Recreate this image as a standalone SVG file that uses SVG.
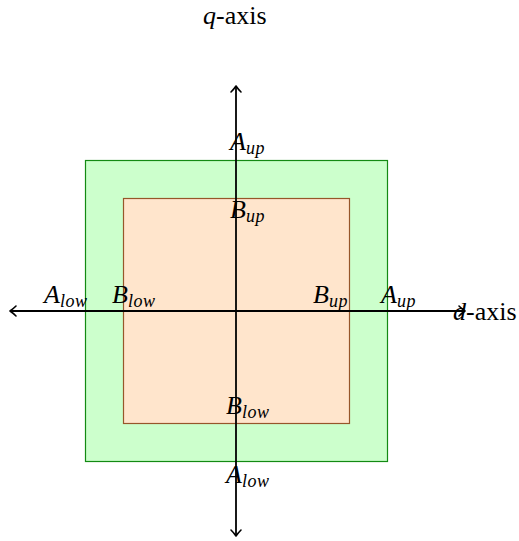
<svg xmlns="http://www.w3.org/2000/svg" width="519" height="541" viewBox="0 0 519 541">
<style>
.lbl{font-family:"Liberation Serif","DejaVu Serif",serif;font-size:26px;font-style:italic;fill:#000}
.up{font-size:18px;letter-spacing:0.5px}
.rm{font-style:normal}
.ax{stroke:#000;stroke-width:1.8;fill:none}
.ah{stroke:#000;stroke-width:1.6;fill:none;stroke-linecap:round;stroke-linejoin:round}
</style>
<rect width="519" height="541" fill="#fff"/>
<g id="regionA"><rect x="85.5" y="160.5" width="302" height="301" fill="#ccffcc" stroke="#138a13" stroke-width="1.2"/></g>
<g id="regionB"><rect x="123.5" y="198.5" width="226" height="225" fill="#ffe5cc" stroke="#96562a" stroke-width="1.2"/></g>
<g id="connectors">
<line class="ax" x1="236" y1="86" x2="236" y2="536"/>
<path class="ah" d="M231,92 Q234,89 236,86 Q238,89 241,92"/>
<path class="ah" d="M231,530 Q234,533 236,536 Q238,533 241,530"/>
<line class="ax" x1="10" y1="311" x2="465" y2="311"/>
<path class="ah" d="M16,306 Q13,309 10,311 Q13,313 16,316"/>
<path class="ah" d="M459,306 Q462,309 465,311 Q462,313 459,316"/>
</g>
<g id="labels">
<text class="lbl" x="203" y="24">q<tspan class="rm">-axis</tspan></text>
<text class="lbl" x="453" y="320">d<tspan class="rm">-axis</tspan></text>
<text class="lbl" x="230" y="150">A<tspan class="up" dy="4">up</tspan></text>
<text class="lbl" x="230" y="218">B<tspan class="up" dy="4">up</tspan></text>
<text class="lbl" x="226" y="414">B<tspan class="up" dy="4">low</tspan></text>
<text class="lbl" x="226" y="483">A<tspan class="up" dy="4">low</tspan></text>
<text class="lbl" x="44" y="303">A<tspan class="up" dy="4">low</tspan></text>
<text class="lbl" x="112" y="303">B<tspan class="up" dy="4">low</tspan></text>
<text class="lbl" x="313" y="303">B<tspan class="up" dy="4">up</tspan></text>
<text class="lbl" x="381" y="303">A<tspan class="up" dy="4">up</tspan></text>
</g>
</svg>
